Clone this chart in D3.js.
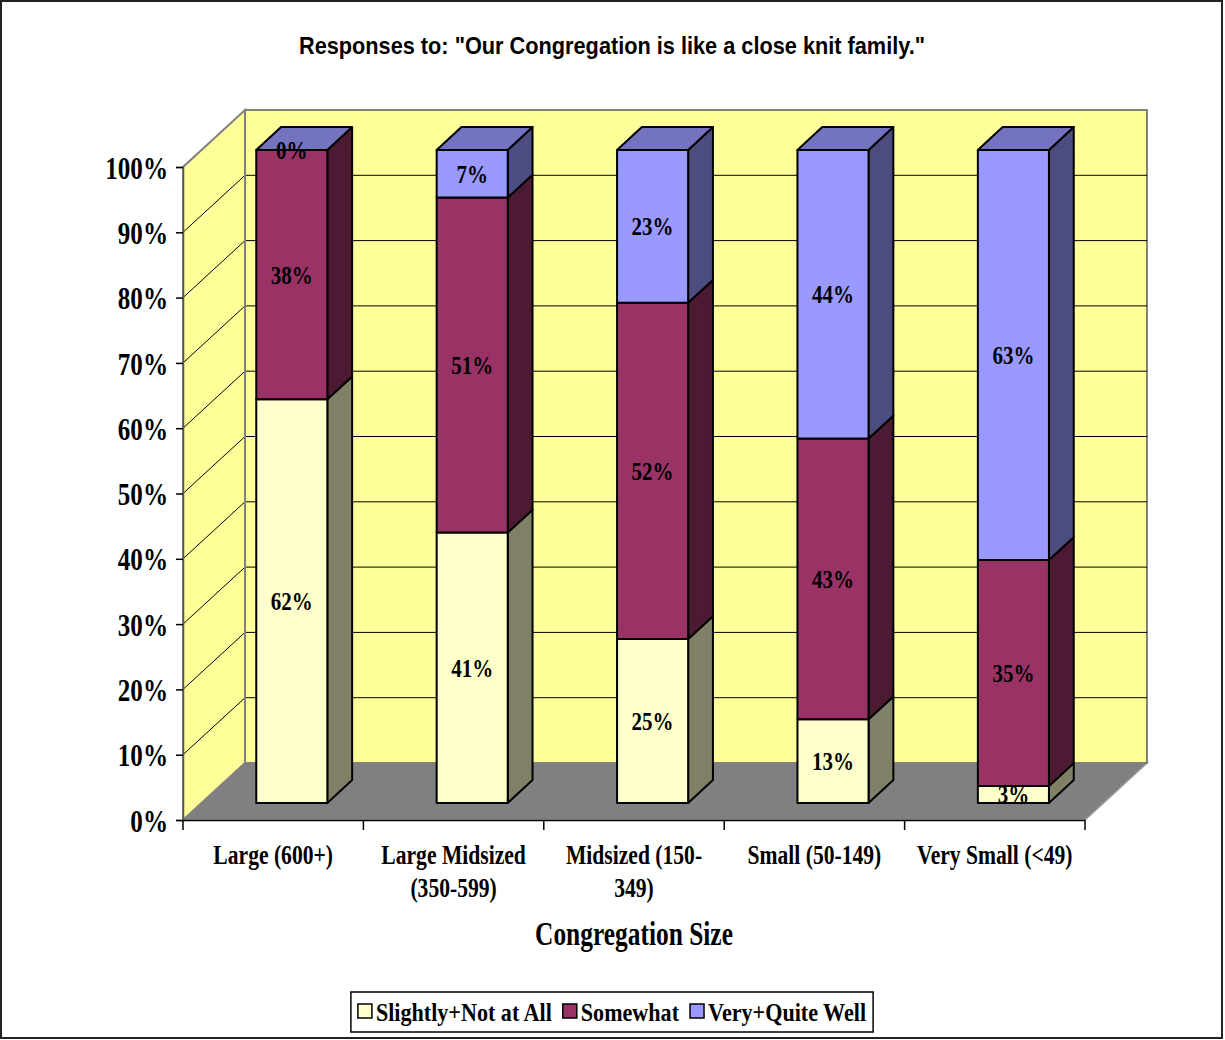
<!DOCTYPE html>
<html>
<head>
<meta charset="utf-8">
<script src="https://cdn.jsdelivr.net/npm/d3@7"></script>
<style>
  html, body { margin: 0; padding: 0; background: #fff; }
  svg { display: block; }
</style>
</head>
<body>
<svg id="chart" width="1225" height="1040"></svg>
<script>
// ---------------- DATA ----------------
const categories = ["Large (600+)", "Large Midsized (350-599)", "Midsized (150-349)", "Small (50-149)", "Very Small (<49)"];
const categoryLines = [["Large (600+)"], ["Large Midsized", "(350-599)"], ["Midsized (150-", "349)"], ["Small (50-149)"], ["Very Small (<49)"]];
const seriesNames = ["Slightly+Not at All", "Somewhat", "Very+Quite Well"];
const slightlyNotAtAll = [61.8, 41.4, 25.1, 12.8, 2.6];
const somewhat = [38.2, 51.3, 51.5, 43.0, 34.6];
const veryQuiteWell = [0.0, 7.3, 23.4, 44.2, 62.8];
const yTickValues = [0, 10, 20, 30, 40, 50, 60, 70, 80, 90, 100];
const titleText = 'Responses to: "Our Congregation is like a close knit family."';
const xAxisTitle = "Congregation Size";

// ---------------- STYLE ----------------
const frontColors = ["#FFFFCC", "#993366", "#9999FF"];
const sideColors = ["#808066", "#4C1A33", "#4C4C80"];
const topColors = ["#BFBF99", "#73264D", "#7373BF"];
const serif = "'Liberation Serif', 'Times New Roman', serif";
const sans = "'Liberation Sans', Arial, sans-serif";

const svg = d3.select("#chart");
function squeeze(sel, f) {
  sel.each(function () {
    const L = this.getComputedTextLength();
    this.setAttribute("textLength", L * f);
    this.setAttribute("lengthAdjust", "spacingAndGlyphs");
  });
}

// outer border
svg.append("rect").attr("x", 1).attr("y", 1).attr("width", 1221).attr("height", 1037)
  .attr("fill", "#fff").attr("stroke", "#222").attr("stroke-width", 2);

// ---------------- GEOMETRY ----------------
const DX = 62, DY = 57;              // full depth offset
const x = d3.scaleBand().domain(categories).range([183, 1085]).paddingInner(0.606).paddingOuter(0.303);
const xSlot = d3.scaleBand().domain(categories).range([183, 1085]);
const y = d3.scaleLinear().domain([0, 100]).range([820, 167]);
const proj = (px, py, d) => [px + DX * d, py - DY * d];
const dFront = 0.3, dBack = 0.7;

// stacked data
const rows = categories.map((c, i) => ({ cat: c, v: [slightlyNotAtAll[i], somewhat[i], veryQuiteWell[i]] }));
const stack = d3.stack().keys([0, 1, 2]).value((d, k) => d.v[k]);
const stacked = stack(rows);

// ---------------- WALLS ----------------
const y0 = y(0), y100 = y(100), xl = 183, xr = 1085;
const poly = pts => pts.map(p => p.join(",")).join(" ");
// floor
svg.append("polygon")
  .attr("points", poly([[xl, y0], proj(xl, y0, 1), proj(xr, y0, 1), [xr, y0]]))
  .attr("fill", "#808080").attr("stroke", "#999").attr("stroke-width", 1.5);
// side wall
svg.append("polygon")
  .attr("points", poly([[xl, y0], [xl, y100], proj(xl, y100, 1), proj(xl, y0, 1)]))
  .attr("fill", "#FFFF99").attr("stroke", "#808080").attr("stroke-width", 2);
// back wall
svg.append("polygon")
  .attr("points", poly([proj(xl, y0, 1), proj(xl, y100, 1), proj(xr, y100, 1), proj(xr, y0, 1)]))
  .attr("fill", "#FFFF99").attr("stroke", "#808080").attr("stroke-width", 2);
// gridlines
const gridVals = yTickValues.filter(v => v > 0 && v < 100);
svg.append("g").selectAll("line.back").data(gridVals).join("line")
  .attr("x1", d => proj(xl, y(d), 1)[0]).attr("y1", d => proj(xl, y(d), 1)[1])
  .attr("x2", d => proj(xr, y(d), 1)[0]).attr("y2", d => proj(xr, y(d), 1)[1])
  .attr("stroke", "#000").attr("stroke-width", 1);
svg.append("g").selectAll("line.side").data(gridVals).join("line")
  .attr("x1", xl).attr("y1", d => y(d))
  .attr("x2", d => proj(xl, y(d), 1)[0]).attr("y2", d => proj(xl, y(d), 1)[1])
  .attr("stroke", "#000").attr("stroke-width", 1);
svg.append("line").attr("x1", proj(xl, y0, 1)[0]).attr("y1", proj(xl, y0, 1)[1])
  .attr("x2", proj(xl, y100, 1)[0]).attr("y2", proj(xl, y100, 1)[1])
  .attr("stroke", "#808080").attr("stroke-width", 2);

// ---------------- AXES ----------------
const yAxis = d3.axisLeft(y).tickValues(yTickValues).tickFormat(d => d + "%").tickSize(7).tickPadding(8);
const gy = svg.append("g").attr("transform", `translate(${xl},0)`).call(yAxis);
gy.select(".domain").attr("stroke", "#555").attr("stroke-width", 1.5);
gy.selectAll(".tick line").attr("stroke", "#000").attr("stroke-width", 1.5);
gy.selectAll(".tick text").attr("font-family", serif).attr("font-weight", "bold")
  .attr("font-size", 31).attr("fill", "#000").attr("dy", "0.36em");
squeeze(gy.selectAll(".tick text"), 0.81);

const xAxis = d3.axisBottom(xSlot).tickValues([]).tickSize(0);
const gx = svg.append("g").attr("transform", `translate(0,${y0})`).call(xAxis);
gx.select(".domain").attr("stroke", "#000").attr("stroke-width", 1.5);
const bounds = categories.map(c => xSlot(c)).concat([xSlot(categories[categories.length - 1]) + xSlot.bandwidth()]);
svg.append("g").selectAll("line").data(bounds).join("line")
  .attr("x1", d => d).attr("x2", d => d).attr("y1", y0).attr("y2", y0 + 10)
  .attr("stroke", "#000").attr("stroke-width", 1.5);
const catG = svg.append("g");
categories.forEach((c, i) => {
  const t = catG.append("text").attr("x", xSlot(c) + xSlot.bandwidth() / 2).attr("y", 864)
    .attr("text-anchor", "middle").attr("font-family", serif).attr("font-weight", "bold")
    .attr("font-size", 27).attr("fill", "#000");
  categoryLines[i].forEach((ln, j) => {
    t.append("tspan").attr("x", xSlot(c) + xSlot.bandwidth() / 2).attr("dy", j === 0 ? 0 : 33).text(ln);
  });
});
catG.selectAll("tspan").each(function () {
  const L = this.getComputedTextLength();
  this.setAttribute("textLength", L * 0.8);
  this.setAttribute("lengthAdjust", "spacingAndGlyphs");
});

// ---------------- BARS ----------------
const barG = svg.append("g");
rows.forEach((r, i) => {
  const x0 = x(r.cat), x1 = x0 + x.bandwidth();
  const g = barG.append("g");
  const F = (px, py) => proj(px, py, dFront), B = (px, py) => proj(px, py, dBack);
  stacked.forEach((s, k) => {
    const [a, b] = s[i];
    if (b - a <= 0) return;
    const yb = y(a), yt = y(b);
    g.append("polygon").attr("points", poly([F(x1, yb), B(x1, yb), B(x1, yt), F(x1, yt)]))
      .attr("fill", sideColors[k]).attr("stroke", "#000").attr("stroke-width", 2).attr("stroke-linejoin", "round");
    g.append("polygon").attr("points", poly([F(x0, yb), F(x1, yb), F(x1, yt), F(x0, yt)]))
      .attr("fill", frontColors[k]).attr("stroke", "#000").attr("stroke-width", 2).attr("stroke-linejoin", "round");
  });
  const total = stacked[stacked.length - 1][i][1];
  const yt = y(total);
  g.append("polygon").attr("points", poly([F(x0, yt), F(x1, yt), B(x1, yt), B(x0, yt)]))
    .attr("fill", topColors[2]).attr("stroke", "#000").attr("stroke-width", 2).attr("stroke-linejoin", "round");
});
const lblG = svg.append("g");
rows.forEach((r, i) => {
  const cx = x(r.cat) + x.bandwidth() / 2;
  stacked.forEach((s, k) => {
    const [a, b] = s[i];
    const p = proj(cx, y((a + b) / 2), dFront);
    lblG.append("text").attr("x", p[0]).attr("y", p[1]).attr("dy", "0.36em")
      .attr("text-anchor", "middle").attr("font-family", serif).attr("font-weight", "bold")
      .attr("font-size", 25).attr("fill", "#000")
      .text(d3.format(".0f")(r.v[k]) + "%");
  });
});
squeeze(lblG.selectAll("text"), 0.84);

// ---------------- TITLES ----------------
const title = svg.append("text").attr("x", 612).attr("y", 54).attr("text-anchor", "middle")
  .attr("font-family", sans).attr("font-weight", "bold").attr("font-size", 24).attr("fill", "#000")
  .text(titleText);
squeeze(title, 0.905);
const xt = svg.append("text").attr("x", 634).attr("y", 945).attr("text-anchor", "middle")
  .attr("font-family", serif).attr("font-weight", "bold").attr("font-size", 33).attr("fill", "#000")
  .text(xAxisTitle);
squeeze(xt, 0.77);

// ---------------- LEGEND ----------------
const leg = svg.append("g");
const legBox = leg.append("rect").attr("fill", "#fff").attr("stroke", "#000").attr("stroke-width", 1.5);
let cursor = 0;
seriesNames.forEach((n, k) => {
  const it = leg.append("g");
  it.append("rect").attr("x", cursor).attr("y", -8).attr("width", 14).attr("height", 14)
    .attr("fill", frontColors[k]).attr("stroke", "#000").attr("stroke-width", 1.5);
  const t = it.append("text").attr("x", cursor + 18).attr("y", 0).attr("dy", "0.36em")
    .attr("font-family", serif).attr("font-weight", "bold").attr("font-size", 26).attr("fill", "#000").text(n);
  squeeze(t, 0.85);
  cursor += 18 + +t.attr("textLength") + 11;
});
const legW = cursor - 11 + 14, legCx = 612, legCy = 1012;
leg.attr("transform", `translate(${legCx - (cursor - 11) / 2},${legCy})`);
legBox.attr("x", -7).attr("y", -20).attr("width", legW).attr("height", 40);
</script>
</body>
</html>
